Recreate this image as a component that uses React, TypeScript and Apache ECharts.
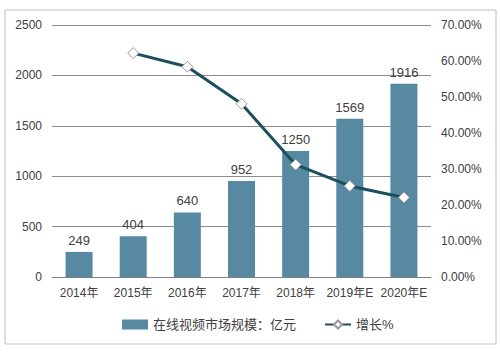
import React, { useEffect, useRef } from "react";
import * as echarts from "echarts";

const categories = ["2014年", "2015年", "2016年", "2017年", "2018年", "2019年E", "2020年E"];
const marketSize = [249, 404, 640, 952, 1250, 1569, 1916];
const growthRate = [null, 62.2, 58.4, 48.1, 31.2, 25.3, 22.1];
const barName = "在线视频市场规模：亿元";
const lineName = "增长%";

export default function App() {
  const ref = useRef<HTMLDivElement>(null);
  useEffect(() => {
    const chart = echarts.init(ref.current!, null, { renderer: "svg" });
    const font = "Arial, 'Liberation Sans', 'Noto Sans CJK SC', sans-serif";
    chart.setOption({
      animation: false,
      backgroundColor: "#ffffff",
      textStyle: { fontFamily: font },
      grid: { left: 52, right: 69, top: 25, bottom: 77, containLabel: false },
      legend: {
        bottom: 18,
        left: 117,
        itemGap: 28,
        itemWidth: 26,
        itemHeight: 10,
        textStyle: { color: "#404040", fontSize: 13, fontFamily: font },
        data: [
          { name: barName, icon: "rect" },
          { name: lineName },
        ],
      },
      xAxis: {
        type: "category",
        data: categories,
        axisTick: { show: false },
        axisLine: { lineStyle: { color: "#808080", width: 1 } },
        axisLabel: { color: "#404040", fontSize: 12, margin: 10, interval: 0 },
      },
      yAxis: [
        {
          type: "value",
          min: 0,
          max: 2500,
          interval: 500,
          axisLine: { show: false },
          axisTick: { show: false },
          axisLabel: {
            color: "#404040",
            fontSize: 12,
            margin: 10,
            formatter: (v: number) => String(v),
          },
          splitLine: { lineStyle: { color: "#8c8c8c", width: 1 } },
        },
        {
          type: "value",
          min: 0,
          max: 70,
          interval: 10,
          axisLine: { show: false },
          axisTick: { show: false },
          axisLabel: {
            color: "#404040",
            fontSize: 12,
            margin: 10,
            formatter: (v: number) => v.toFixed(2) + "%",
          },
          splitLine: { show: false },
        },
      ],
      series: [
        {
          name: barName,
          type: "bar",
          data: marketSize,
          barWidth: 27,
          itemStyle: { color: "#5789a3" },
          label: {
            show: true,
            position: "top",
            color: "#404040",
            fontSize: 13,
            distance: 5,
          },
        },
        {
          name: lineName,
          type: "line",
          yAxisIndex: 1,
          data: growthRate,
          symbol: "diamond",
          symbolSize: 11,
          lineStyle: { color: "#1c4f5e", width: 3 },
          itemStyle: { color: "#ffffff", borderColor: "#9a9a9a", borderWidth: 1 },
        },
      ],
      graphic: [
        {
          type: "rect",
          shape: { x: 5, y: 10, width: 491, height: 334 },
          style: { fill: "none", stroke: "#bfbfbf", lineWidth: 1 },
          silent: true,
        },
      ],
    });
    return () => chart.dispose();
  }, []);
  return (
    <div
      ref={ref}
      style={{ position: "fixed", left: 0, top: 0, width: 500, height: 354 }}
    />
  );
}
